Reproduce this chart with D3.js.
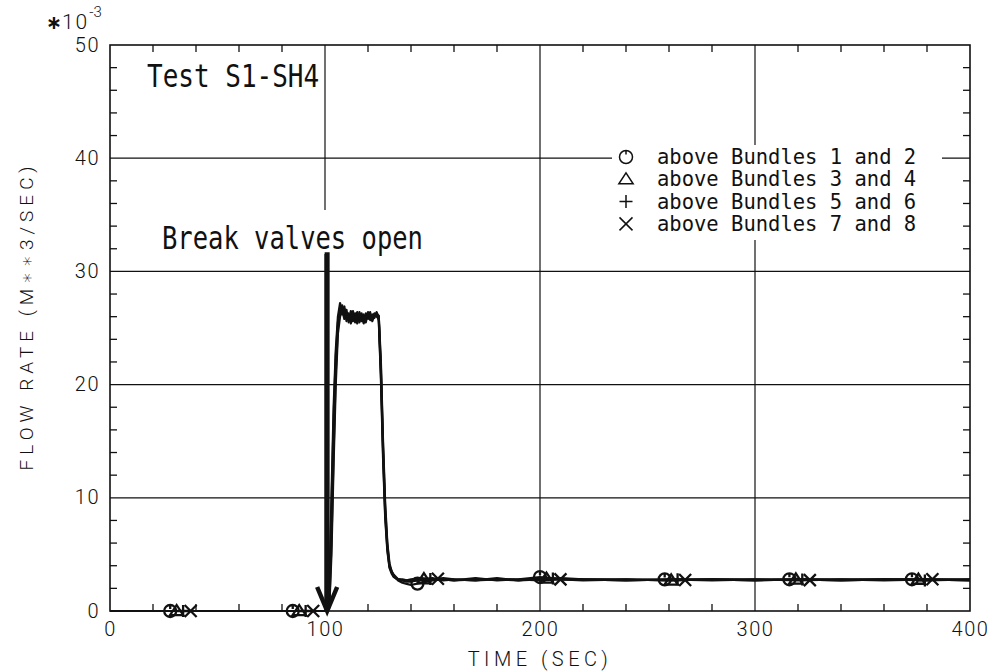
<!DOCTYPE html>
<html>
<head>
<meta charset="utf-8">
<script src="https://cdn.jsdelivr.net/npm/d3@7"></script>
<style>
  html, body { margin: 0; padding: 0; background: #fff; }
  svg { display: block; }
  .plot { font-family: "DejaVu Sans Mono", monospace; fill: #111; }
  .tick-label { font-family: Roboto, "DejaVu Sans", sans-serif; font-weight: 300; font-size: 20px; fill: #111; }
</style>
</head>
<body>
<svg id="chart" width="995" height="672"></svg>
<script>
// Time axis (s) shared by all four flow-rate records
const times = [0, 100, 101, 102, 103, 104, 105, 106, 107, 108, 109, 110, 111, 112, 113, 114, 115, 116, 117, 118, 119, 120,
  121, 122, 123, 124, 125, 126, 127, 128, 129, 130, 131, 132, 133, 134, 136, 138, 140, 145, 150, 155, 160, 170, 180, 190,
  200, 210, 220, 240, 260, 280, 300, 320, 340, 360, 380, 400];

// Flow rate (x 10^-3 m^3/s) above each bundle pair
const bundles12 = [0, 0, 0, 2.0, 10.0, 18.0, 23.0, 26.0, 27.2, 26.5, 26.9, 25.6, 26.3, 25.4, 26.2, 25.7, 26.4, 25.5, 26.0, 25.4, 26.3, 25.8,
  26.4, 25.6, 26.1, 26.3, 25.8, 21.0, 14.0, 8.5, 5.5, 3.9, 3.4, 3.1, 2.9, 2.7, 2.5, 2.4, 2.3, 2.5, 2.7, 2.8, 2.7, 2.9, 2.7, 2.8,
  3.0, 2.8, 2.8, 2.7, 2.8, 2.7, 2.8, 2.8, 2.7, 2.8, 2.8, 2.7];
const bundles34 = [0, 0, 0, 0.5, 6.0, 14.0, 21.0, 25.0, 26.5, 27.0, 26.0, 26.6, 25.5, 26.5, 25.6, 26.3, 25.4, 26.4, 25.7, 26.2, 25.5, 26.4,
  25.7, 26.2, 25.9, 26.4, 26.0, 21.5, 14.5, 9.0, 5.8, 4.0, 3.5, 3.2, 3.0, 2.8, 2.7, 2.6, 2.6, 2.8, 2.9, 2.7, 2.8, 2.7, 2.9, 2.7,
  2.9, 2.8, 2.7, 2.8, 2.7, 2.8, 2.7, 2.8, 2.8, 2.7, 2.8, 2.7];
const bundles56 = [0, 0, 0, 1.5, 9.0, 17.0, 22.5, 25.5, 26.8, 26.2, 26.7, 25.9, 26.0, 25.7, 26.5, 25.5, 26.1, 25.8, 26.3, 25.6, 26.0, 26.2,
  25.9, 26.0, 26.3, 26.1, 25.7, 20.5, 13.5, 8.2, 5.3, 3.8, 3.3, 3.0, 2.9, 2.8, 2.7, 2.7, 2.8, 2.9, 2.8, 2.8, 2.7, 2.8, 2.8, 2.7,
  2.8, 2.9, 2.8, 2.7, 2.8, 2.8, 2.7, 2.8, 2.7, 2.8, 2.7, 2.8];
const bundles78 = [0, 0, 0, 0.3, 5.0, 13.0, 20.0, 24.5, 26.0, 26.6, 25.8, 26.2, 25.9, 26.1, 25.8, 26.0, 25.9, 26.2, 25.6, 26.0, 25.9, 26.1,
  25.8, 26.0, 26.2, 26.0, 26.1, 22.0, 15.0, 9.5, 6.0, 4.2, 3.5, 3.1, 2.9, 2.8, 2.8, 2.7, 2.7, 2.7, 2.8, 2.9, 2.8, 2.7, 2.8, 2.8,
  2.7, 2.8, 2.8, 2.8, 2.7, 2.8, 2.8, 2.7, 2.8, 2.8, 2.8, 2.8];

// Times at which each record carries its plot symbol
const circleTimes   = [28, 85, 143, 200, 258, 316, 373];
const triangleTimes = [31, 88, 146, 203, 261, 319, 376];
const plusTimes     = [34, 91, 149, 206, 264, 322, 379];
const crossTimes    = [37.5, 94.5, 152.5, 209.5, 267.5, 325.5, 382.5];

const legendLabels = ["above Bundles 1 and 2", "above Bundles 3 and 4", "above Bundles 5 and 6", "above Bundles 7 and 8"];
const xTickValues = [0, 100, 200, 300, 400];
const yTickValues = [0, 10, 20, 30, 40, 50];
const xMinorStep = 20;
const yMinorStep = 2;

// Annotation: break valves open at t = 101 s
const breakTime = 101;
const breakArrowTop = 31.7;

const svg = d3.select("#chart");
const margin = { left: 110, right: 25, top: 45, bottom: 61 };
const W = 995, H = 672;
const x = d3.scaleLinear().domain([0, 400]).range([margin.left, W - margin.right]);
const y = d3.scaleLinear().domain([0, 50]).range([H - margin.bottom, margin.top]);

const series = [
  { values: bundles12, symbol: "circle", marks: circleTimes, label: legendLabels[0] },
  { values: bundles34, symbol: "triangle", marks: triangleTimes, label: legendLabels[1] },
  { values: bundles56, symbol: "plus", marks: plusTimes, label: legendLabels[2] },
  { values: bundles78, symbol: "cross", marks: crossTimes, label: legendLabels[3] }
];

const g = svg.append("g");

// Grid lines
g.append("g").selectAll("line").data([10, 20, 30, 40]).join("line")
  .attr("x1", x(0)).attr("x2", x(400))
  .attr("y1", d => y(d)).attr("y2", d => y(d))
  .attr("stroke", "#111").attr("stroke-width", 1.2);
g.append("g").selectAll("line").data([100, 200, 300]).join("line")
  .attr("x1", d => x(d)).attr("x2", d => x(d))
  .attr("y1", y(0)).attr("y2", y(50))
  .attr("stroke", "#111").attr("stroke-width", 1.2);

// Minor ticks pointing into the frame on all four sides
const xMinor = d3.range(0, 401, xMinorStep).filter(v => v % 100 !== 0);
const yMinor = d3.range(0, 51, yMinorStep).filter(v => v % 10 !== 0);
const tickLen = 7;
g.append("g").selectAll("line").data(xMinor).join("line")
  .attr("x1", d => x(d)).attr("x2", d => x(d)).attr("y1", y(0)).attr("y2", y(0) - tickLen)
  .attr("stroke", "#111").attr("stroke-width", 1.3);
g.append("g").selectAll("line").data(xMinor).join("line")
  .attr("x1", d => x(d)).attr("x2", d => x(d)).attr("y1", y(50)).attr("y2", y(50) + tickLen)
  .attr("stroke", "#111").attr("stroke-width", 1.3);
g.append("g").selectAll("line").data(yMinor).join("line")
  .attr("x1", x(0)).attr("x2", x(0) + tickLen).attr("y1", d => y(d)).attr("y2", d => y(d))
  .attr("stroke", "#111").attr("stroke-width", 1.3);
g.append("g").selectAll("line").data(yMinor).join("line")
  .attr("x1", x(400)).attr("x2", x(400) - tickLen).attr("y1", d => y(d)).attr("y2", d => y(d))
  .attr("stroke", "#111").attr("stroke-width", 1.3);

// Legend panel (white box blanks the grid behind it)
const legX = 612, legY = 145, legRow = 22.3;
g.append("rect").attr("x", legX).attr("y", legY).attr("width", 330).attr("height", 95).attr("fill", "#fff");

// "Break valves open" label box
g.append("rect").attr("x", 155).attr("y", 210).attr("width", 275).attr("height", 44).attr("fill", "#fff");

// Frame
g.append("rect").attr("x", x(0)).attr("y", y(50)).attr("width", x(400) - x(0)).attr("height", y(0) - y(50))
  .attr("fill", "none").attr("stroke", "#111").attr("stroke-width", 1.6);

// Axes labels built from d3 axes with tick lines hidden
const xAxis = d3.axisBottom(x).tickValues(xTickValues).tickSize(0).tickPadding(10).tickFormat(d3.format("d"));
const xa = g.append("g").attr("transform", `translate(0,${y(0)})`).call(xAxis);
xa.select(".domain").remove();
xa.selectAll("text").attr("class", "tick-label").attr("fill", "#111").attr("dy", "0.75em")
  .style("letter-spacing", "1.5px");

const yAxis = d3.axisLeft(y).tickValues(yTickValues).tickSize(0).tickPadding(10).tickFormat(d3.format("d"));
const ya = g.append("g").attr("transform", `translate(${x(0)},0)`).call(yAxis);
ya.select(".domain").remove();
ya.selectAll("text").attr("class", "tick-label").attr("fill", "#111").attr("dy", "0.3em")
  .style("letter-spacing", "1.5px");

// Scale factor annotation
const sf = svg.append("text").attr("x", 46).attr("y", 29).attr("class", "tick-label").style("font-size", "21px");
sf.append("tspan").text("\u2217").style("font-weight", 700).style("font-size", "19px");
sf.append("tspan").text("10").style("letter-spacing", "2px");
sf.append("tspan").text("-3").attr("dy", -12).style("font-size", "15px");

// Axis titles
svg.append("text").attr("class", "tick-label")
  .attr("x", 540).attr("y", 666).attr("text-anchor", "middle")
  .style("letter-spacing", "4.5px").style("font-size", "20px")
  .text("TIME (SEC)");
svg.append("text").attr("class", "tick-label")
  .attr("transform", "translate(33,316) rotate(-90)").attr("text-anchor", "middle")
  .style("letter-spacing", "5px").style("font-size", "19px")
  .text("FLOW RATE (M\u2217\u22173/SEC)");

// Data curves
const line = d3.line().x((d, i) => x(times[i])).y(d => y(d));
const clip = svg.append("clipPath").attr("id", "plotclip").append("rect")
  .attr("x", x(0)).attr("y", y(50)).attr("width", x(400) - x(0)).attr("height", y(0) - y(50) + 1);
const curves = g.append("g").attr("clip-path", "url(#plotclip)");
series.forEach(s => {
  curves.append("path").datum(s.values).attr("d", line)
    .attr("fill", "none").attr("stroke", "#111").attr("stroke-width", 2.2).attr("stroke-linejoin", "round");
});

// Plot symbols
function valueAt(vals, t) {
  const i = d3.bisectRight(times, t);
  if (i <= 0) return vals[0];
  if (i >= times.length) return vals[vals.length - 1];
  const t0 = times[i - 1], t1 = times[i];
  return vals[i - 1] + (vals[i] - vals[i - 1]) * (t - t0) / (t1 - t0);
}
function symbolPath(type, cx, cy, s) {
  const p = d3.path();
  if (type === "circle") {
    p.moveTo(cx + s, cy); p.arc(cx, cy, s, 0, Math.PI * 2);
    p.moveTo(cx, cy - s); p.lineTo(cx, cy - s + 4);
  } else if (type === "triangle") {
    p.moveTo(cx, cy - s); p.lineTo(cx + s * 1.1, cy + s * 0.7); p.lineTo(cx - s * 1.1, cy + s * 0.7); p.closePath();
  } else if (type === "plus") {
    p.moveTo(cx - s, cy); p.lineTo(cx + s, cy); p.moveTo(cx, cy - s); p.lineTo(cx, cy + s);
  } else {
    p.moveTo(cx - s, cy - s); p.lineTo(cx + s, cy + s); p.moveTo(cx - s, cy + s); p.lineTo(cx + s, cy - s);
  }
  return p.toString();
}
series.forEach(s => {
  g.append("g").selectAll("path").data(s.marks).join("path")
    .attr("d", t => symbolPath(s.symbol, x(t), y(valueAt(s.values, t)), 6))
    .attr("fill", "none").attr("stroke", "#111").attr("stroke-width", 2.3);
});

// Break valves arrow
const ax = x(breakTime);
g.append("line").attr("x1", ax).attr("x2", ax).attr("y1", y(breakArrowTop)).attr("y2", y(0) - 4)
  .attr("stroke", "#111").attr("stroke-width", 5);
g.append("path")
  .attr("d", `M${ax - 10},${y(0) - 24} L${ax},${y(0)} L${ax + 10},${y(0) - 24}`)
  .attr("fill", "none").attr("stroke", "#111").attr("stroke-width", 4.5).attr("stroke-linejoin", "miter");

svg.append("text").attr("class", "plot")
  .attr("transform", "translate(162,249) scale(1,1.25)")
  .style("font-size", "25.5px")
  .text("Break valves open");

// Test identifier
svg.append("text").attr("class", "plot")
  .attr("transform", "translate(147,87) scale(1,1.25)")
  .style("font-size", "26px")
  .text("Test S1-SH4");

// Legend rows
series.forEach((s, i) => {
  const cy = 157 + i * legRow;
  g.append("path").attr("d", symbolPath(s.symbol, 626, cy, 6.5))
    .attr("fill", "none").attr("stroke", "#111").attr("stroke-width", 1.5);
  g.append("text").attr("class", "plot")
    .attr("x", 657).attr("y", cy + 7)
    .style("font-size", "20.5px")
    .text(s.label);
});
</script>
</body>
</html>
